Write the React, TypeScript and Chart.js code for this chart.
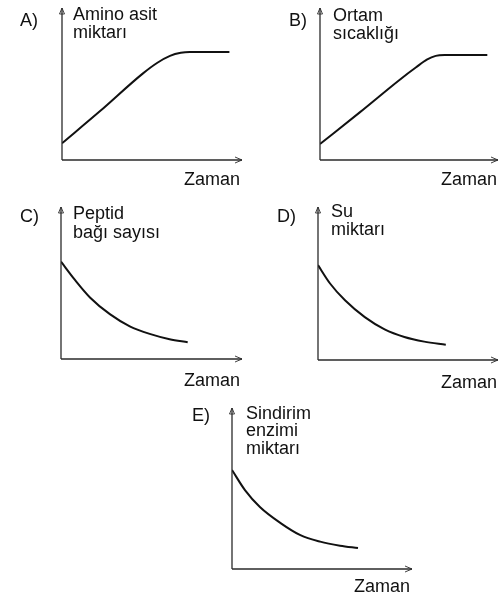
import React, { useEffect, useRef } from "react";
import { Chart, registerables } from "chart.js";

Chart.register(...registerables);

// ---- Data (time / value in arbitrary units, 0..10 axes) ----
const panelLetters = ["A)", "B)", "C)", "D)", "E)"];
const yAxisLabels = [
  ["Amino asit", "miktarı"],
  ["Ortam", "sıcaklığı"],
  ["Peptid", "bağı sayısı"],
  ["Su", "miktarı"],
  ["Sindirim", "enzimi", "miktarı"],
];
const xAxisLabel = "Zaman";

const timeA = [0, 2.1, 4.5, 5.3, 6.0, 6.6, 7.1, 9.3];
const valueA = [1.1, 3.2, 5.7, 6.4, 6.85, 7.05, 7.1, 7.1];

const timeB = [0, 2.25, 4.5, 5.4, 6.0, 6.5, 7.0, 9.4];
const valueB = [1.05, 3.15, 5.3, 6.1, 6.6, 6.85, 6.9, 6.9];

const timeC = [0, 0.77, 1.6, 2.7, 3.8, 4.9, 6.0, 7.0];
const valueC = [6.4, 5.2, 4.05, 2.95, 2.15, 1.65, 1.3, 1.1];

const timeD = [0, 0.67, 1.5, 2.6, 3.7, 4.8, 5.9, 7.1];
const valueD = [6.2, 5.0, 3.9, 2.8, 2.0, 1.5, 1.2, 1.0];

const timeE = [0, 0.72, 1.55, 2.7, 3.8, 4.9, 6.0, 7.0];
const valueE = [6.15, 4.9, 3.85, 2.85, 2.1, 1.7, 1.45, 1.3];

const seriesTimes = [timeA, timeB, timeC, timeD, timeE];
const seriesValues = [valueA, valueB, valueC, valueD, valueE];

// ---- Layout (page coordinates) ----
type Layout = {
  canvas: { left: number; top: number; w: number; h: number };
  axis: { x0: number; y0: number; xEnd: number; yTop: number };
  letter: { x: number; y: number };
  label: { x: number; ys: number[] };
  xLabel: { xRight: number; y: number };
};

const layouts: Layout[] = [
  {
    canvas: { left: 0, top: 0, w: 251, h: 196 },
    axis: { x0: 62, y0: 160, xEnd: 242, yTop: 8 },
    letter: { x: 20, y: 26 },
    label: { x: 73, ys: [20, 38] },
    xLabel: { xRight: 240, y: 185 },
  },
  {
    canvas: { left: 251, top: 0, w: 251, h: 196 },
    axis: { x0: 320, y0: 160, xEnd: 498, yTop: 8 },
    letter: { x: 289, y: 26 },
    label: { x: 333, ys: [21, 39] },
    xLabel: { xRight: 497, y: 185 },
  },
  {
    canvas: { left: 0, top: 196, w: 251, h: 200 },
    axis: { x0: 61, y0: 359, xEnd: 242, yTop: 207 },
    letter: { x: 20, y: 222 },
    label: { x: 73, ys: [219, 238] },
    xLabel: { xRight: 240, y: 386 },
  },
  {
    canvas: { left: 251, top: 196, w: 251, h: 200 },
    axis: { x0: 318, y0: 360, xEnd: 498, yTop: 207 },
    letter: { x: 277, y: 222 },
    label: { x: 331, ys: [217, 235] },
    xLabel: { xRight: 497, y: 388 },
  },
  {
    canvas: { left: 170, top: 396, w: 250, h: 200 },
    axis: { x0: 232, y0: 569, xEnd: 412, yTop: 408 },
    letter: { x: 192, y: 421 },
    label: { x: 246, ys: [419, 436, 454] },
    xLabel: { xRight: 410, y: 592 },
  },
];

const FONT = '18px "Liberation Sans", Arial, sans-serif';

function makePlugin(idx: number) {
  const L = layouts[idx];
  return {
    id: "axesAndLabels" + idx,
    afterDraw(chart: any) {
      const { ctx, chartArea: a } = chart;
      const ox = L.canvas.left;
      const oy = L.canvas.top;
      ctx.save();
      ctx.strokeStyle = "#2a2a2a";
      ctx.lineWidth = 1.3;
      ctx.lineCap = "butt";
      // y axis
      ctx.beginPath();
      ctx.moveTo(a.left, a.bottom);
      ctx.lineTo(a.left, a.top);
      ctx.stroke();
      // x axis
      ctx.beginPath();
      ctx.moveTo(a.left, a.bottom);
      ctx.lineTo(a.right, a.bottom);
      ctx.stroke();
      // arrow heads (open)
      ctx.lineWidth = 0.9;
      ctx.beginPath();
      ctx.moveTo(a.left - 2.5, a.top + 6);
      ctx.lineTo(a.left, a.top);
      ctx.lineTo(a.left + 2.5, a.top + 6);
      ctx.closePath();
      ctx.stroke();
      ctx.beginPath();
      ctx.moveTo(a.right - 7, a.bottom - 3);
      ctx.lineTo(a.right, a.bottom);
      ctx.lineTo(a.right - 7, a.bottom + 3);
      ctx.stroke();

      // texts
      ctx.fillStyle = "#111";
      ctx.font = FONT;
      ctx.textBaseline = "alphabetic";
      ctx.textAlign = "left";
      ctx.fillText(panelLetters[idx], L.letter.x - ox, L.letter.y - oy);
      yAxisLabels[idx].forEach((t, i) => {
        ctx.fillText(t, L.label.x - ox, L.label.ys[i] - oy);
      });
      ctx.textAlign = "right";
      ctx.fillText(xAxisLabel, L.xLabel.xRight - ox, L.xLabel.y - oy);
      ctx.restore();
    },
  };
}

function Panel({ idx }: { idx: number }) {
  const ref = useRef<HTMLCanvasElement | null>(null);
  const L = layouts[idx];
  useEffect(() => {
    if (!ref.current) return;
    const data = seriesTimes[idx].map((t, i) => ({ x: t, y: seriesValues[idx][i] }));
    const chart = new Chart(ref.current, {
      type: "line",
      data: {
        datasets: [
          {
            data,
            borderColor: "#111",
            borderWidth: 2,
            pointRadius: 0,
            fill: false,
            cubicInterpolationMode: "monotone",
          } as any,
        ],
      },
      options: {
        animation: false,
        responsive: false,
        maintainAspectRatio: false,
        devicePixelRatio: 1,
        layout: {
          padding: {
            left: L.axis.x0 - L.canvas.left,
            top: L.axis.yTop - L.canvas.top,
            right: L.canvas.left + L.canvas.w - L.axis.xEnd,
            bottom: L.canvas.top + L.canvas.h - L.axis.y0,
          },
        },
        plugins: { legend: { display: false }, tooltip: { enabled: false }, title: { display: false } },
        scales: {
          x: { type: "linear", min: 0, max: 10, display: false },
          y: { type: "linear", min: 0, max: 10, display: false },
        },
      },
      plugins: [makePlugin(idx)],
    });
    return () => chart.destroy();
  }, [idx]);
  return (
    <canvas
      ref={ref}
      width={L.canvas.w}
      height={L.canvas.h}
      style={{
        position: "absolute",
        left: L.canvas.left,
        top: L.canvas.top,
        width: L.canvas.w,
        height: L.canvas.h,
      }}
    />
  );
}

export default function App() {
  return (
    <div
      style={{
        position: "absolute",
        left: 0,
        top: 0,
        width: 502,
        height: 596,
        background: "#fff",
        overflow: "hidden",
      }}
    >
      {layouts.map((_, i) => (
        <Panel key={i} idx={i} />
      ))}
    </div>
  );
}
